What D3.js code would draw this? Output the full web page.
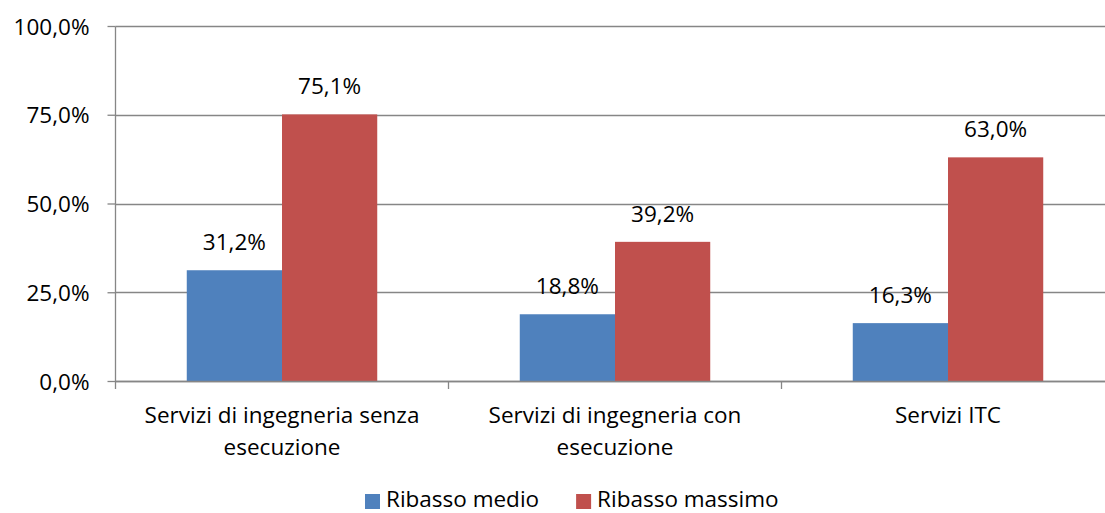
<!DOCTYPE html>
<html><head><meta charset="utf-8">
<script src="https://cdn.jsdelivr.net/npm/d3@7"></script>
<style>body{margin:0;background:#fff}svg{display:block}text{font-family:"Open Sans",sans-serif;fill:#000}</style>
</head><body>
<svg id="c" width="1105" height="513"></svg>
<script>
const categories = [["Servizi di ingegneria senza","esecuzione"],["Servizi di ingegneria con","esecuzione"],["Servizi ITC"]];
const seriesNames = ["Ribasso medio","Ribasso massimo"];
const ribassoMedio = [31.2, 18.8, 16.3];
const ribassoMassimo = [75.1, 39.2, 63.0];
const yTicks = [0, 25, 50, 75, 100];
const colors = ["#4F81BD", "#C0504D"];

(function(){
const svg = d3.select("#c");
const fs = 22.5;
const pL = 115.5, pR = 1114.5, pT = 26, pB = 381;
const idx = d3.range(categories.length);
const x0 = d3.scaleBand().domain(idx).range([pL, pR]).paddingInner(0.428).paddingOuter(0.214);
const x1 = d3.scaleBand().domain([0,1]).range([0, x0.bandwidth()]);
const y = d3.scaleLinear().domain([0,100]).range([pB, pT]);
const fmt = v => d3.format(".1f")(v).replace(".", ",");
const grey = "#868686";

// gridlines
svg.append("g").selectAll("line").data(yTicks).join("line")
  .attr("x1", pL).attr("x2", 1105).attr("y1", d => Math.round(y(d))+0.5).attr("y2", d => Math.round(y(d))+0.5)
  .attr("stroke", grey).attr("stroke-width", 1.3);

// bars
const data = idx.map(i => [ribassoMedio[i], ribassoMassimo[i]]);
const g = svg.append("g");
idx.forEach(i => {
  data[i].forEach((v, s) => {
    g.append("rect").attr("x", x0(i) + x1(s)).attr("width", x1.bandwidth())
      .attr("y", y(v)).attr("height", y(0) - y(v)).attr("fill", colors[s]);
    g.append("text").attr("x", x0(i) + x1(s) + x1.bandwidth()/2).attr("y", y(v) - 20)
      .attr("text-anchor", "middle").attr("font-size", fs).text(fmt(v) + "%");
  });
});

// y axis
const yAxis = d3.axisLeft(y).tickValues(yTicks).tickSize(8).tickPadding(18).tickFormat(d => fmt(d) + "%");
const ya = svg.append("g").attr("transform", `translate(${pL},0)`).call(yAxis);
ya.select(".domain").attr("stroke", grey).attr("stroke-width", 1.3).attr("d", `M0,${y(100)+0.5}V${pB+0.5}`);
ya.selectAll(".tick line").attr("stroke", grey).attr("stroke-width", 1.3);
ya.selectAll(".tick text").attr("font-size", fs).attr("font-family", "Open Sans").attr("fill", "#000").attr("dy", "0.36em");

// x axis
const xa = svg.append("g");
xa.append("line").attr("x1", pL).attr("x2", 1105).attr("y1", pB+0.5).attr("y2", pB+0.5).attr("stroke", grey).attr("stroke-width", 1.3);
const tickPos = d3.range(categories.length + 1).map(i => pL + i * x0.step());
xa.selectAll("line.t").data(tickPos).join("line").attr("class","t")
  .attr("x1", d => d).attr("x2", d => d).attr("y1", pB).attr("y2", pB + 8)
  .attr("stroke", grey).attr("stroke-width", 1.3);
idx.forEach(i => {
  const t = xa.append("text").attr("text-anchor", "middle").attr("font-size", fs)
    .attr("x", x0(i) + x0.bandwidth()/2).attr("y", 423);
  categories[i].forEach((l, k) => t.append("tspan").attr("x", x0(i) + x0.bandwidth()/2).attr("dy", k ? 32 : 0).text(l));
});

// legend
const lg = svg.append("g");
let lx = 365;
seriesNames.forEach((n, s) => {
  lg.append("rect").attr("x", lx).attr("y", 494).attr("width", 15).attr("height", 15).attr("fill", colors[s]);
  const t = lg.append("text").attr("x", lx + 21).attr("y", 507).attr("font-size", fs).text(n);
  lx = lx + 21 + t.node().getComputedTextLength() + 37;
});
})();
</script>
</body></html>
